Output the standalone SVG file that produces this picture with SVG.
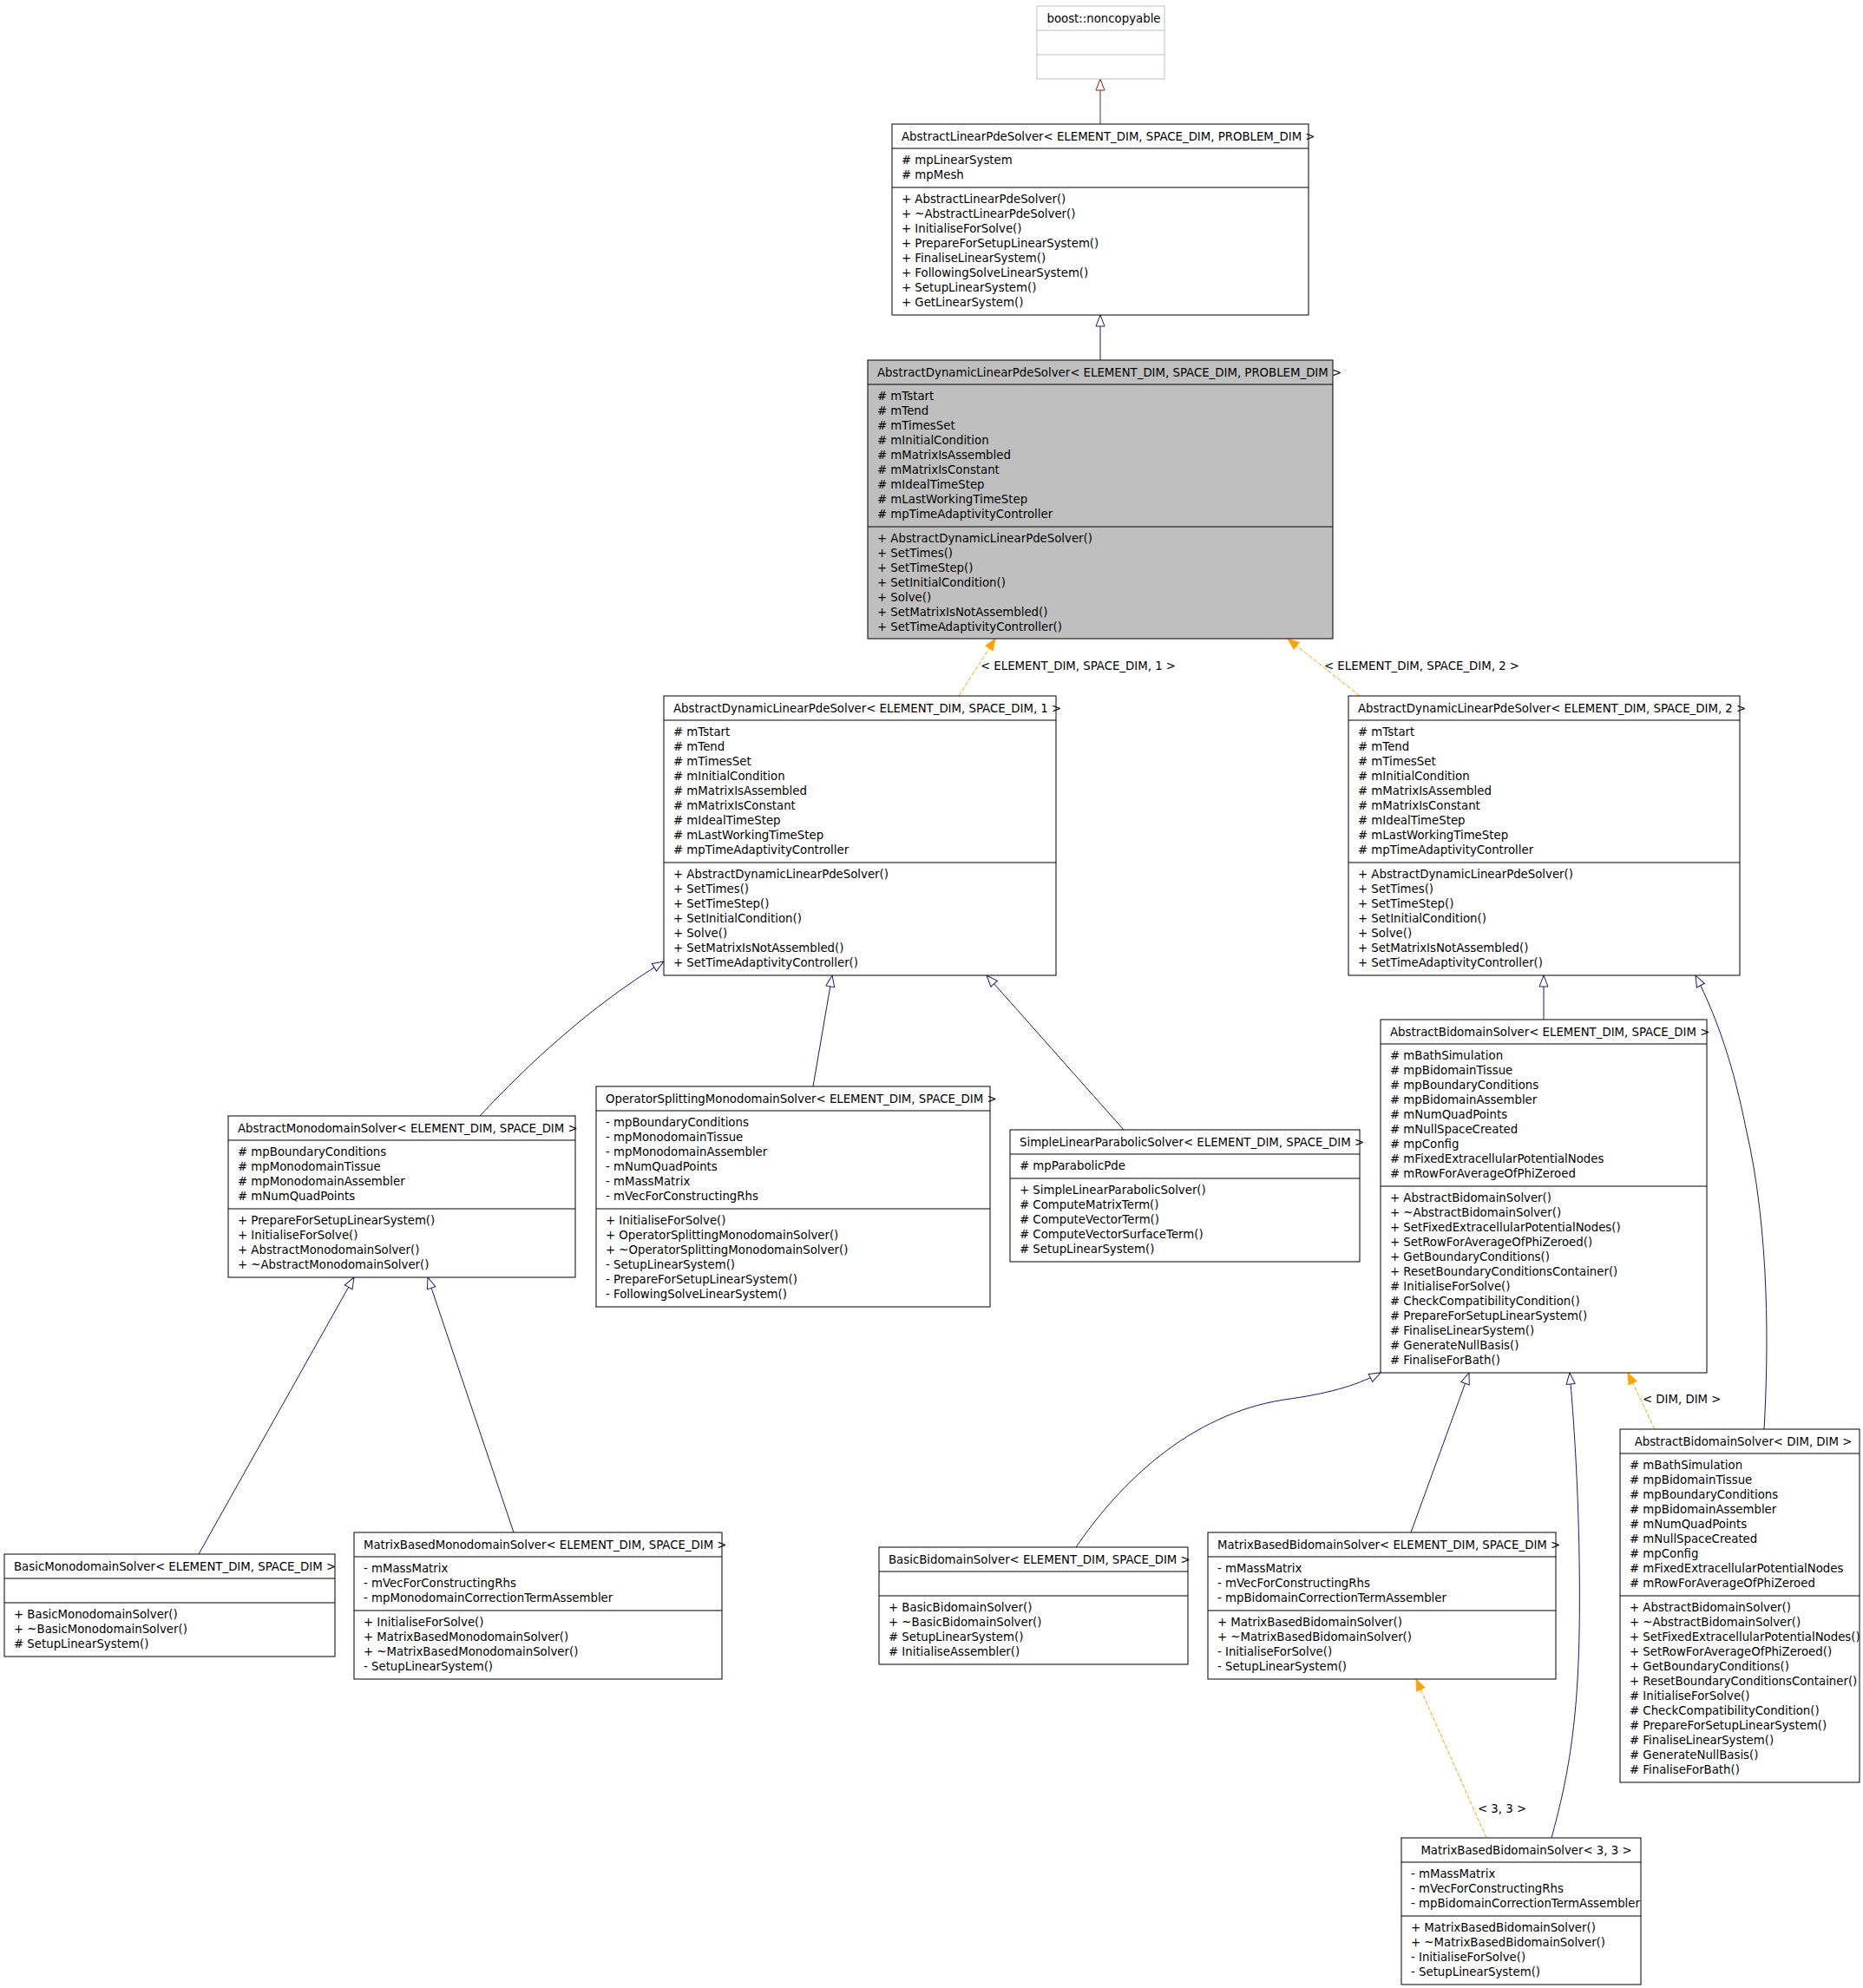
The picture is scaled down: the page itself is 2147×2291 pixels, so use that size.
<svg xmlns="http://www.w3.org/2000/svg" width="2147" height="2291" viewBox="0 0 2147 2291">
<style>
text{font-family:"DejaVu Sans","Liberation Sans",sans-serif;font-size:13.3px;fill:#000}
.b{fill:#fff;stroke:#000;stroke-width:1}
.gr{fill:#bfbfbf;stroke:#000;stroke-width:1}
.lg{fill:#fff;stroke:#bfbfbf;stroke-width:1}
.d{stroke:#000;stroke-width:1}
.dl{stroke:#bfbfbf;stroke-width:1}
.mc{text-anchor:middle}
.inh{fill:none;stroke:#191970;stroke-width:1;marker-end:url(#hb)}
.prv{fill:none;stroke:#8b1a1a;stroke-width:1;marker-end:url(#hr)}
.tpl{fill:none;stroke:#ffa500;stroke-width:1;stroke-dasharray:5,2;marker-end:url(#fo)}
</style>
<defs>
<marker id="hb" markerUnits="userSpaceOnUse" viewBox="-1 -1 15 12" refX="13" refY="5" markerWidth="15" markerHeight="12" orient="auto"><path d="M0,0 L13,5 L0,10 Z" fill="#fff" stroke="#191970" stroke-width="1"/></marker>
<marker id="hr" markerUnits="userSpaceOnUse" viewBox="-1 -1 15 12" refX="13" refY="5" markerWidth="15" markerHeight="12" orient="auto"><path d="M0,0 L13,5 L0,10 Z" fill="#fff" stroke="#8b1a1a" stroke-width="1"/></marker>
<marker id="fo" markerUnits="userSpaceOnUse" viewBox="-1 -1 15 12" refX="13" refY="5" markerWidth="15" markerHeight="12" orient="auto"><path d="M0,0 L13,5 L0,10 Z" fill="#ffa500" stroke="#ffa500" stroke-width="1"/></marker>
</defs>
<rect width="2147" height="2291" fill="#fff"/>

<g id="connectors">
<path class="prv" d="M1268,143 L1268,91"/>
<path class="inh" d="M1268,415 L1268,363"/>
<path class="tpl" d="M1105,802 L1147,736"/>
<text x="1130" y="772">&lt; ELEMENT_DIM, SPACE_DIM, 1 &gt;</text>
<path class="tpl" d="M1567,802 L1484,736"/>
<text x="1526" y="772">&lt; ELEMENT_DIM, SPACE_DIM, 2 &gt;</text>
<path class="inh" d="M553,1286 C610,1225 680,1160 765,1108"/>
<path class="inh" d="M937,1252 L959,1124"/>
<path class="inh" d="M1295,1302 L1137,1124"/>
<path class="inh" d="M1779,1175 L1779,1124"/>
<path class="inh" d="M2033,1647 C2038,1560 2040,1420 2012,1300 C1998,1230 1980,1175 1954,1124"/>
<path class="inh" d="M1240,1783 C1290,1710 1370,1630 1480,1613 C1530,1606 1560,1598 1591,1582"/>
<path class="inh" d="M1626,1766 L1693,1582"/>
<path class="inh" d="M1788,2118 C1805,2056 1818,1994 1820,1882 C1822,1760 1815,1650 1809,1582"/>
<path class="tpl" d="M1907,1647 L1876,1582"/>
<text x="1893" y="1617">&lt; DIM, DIM &gt;</text>
<path class="tpl" d="M1713,2118 L1632,1935"/>
<text x="1703" y="2089">&lt; 3, 3 &gt;</text>
<path class="inh" d="M229,1791 L408,1472"/>
<path class="inh" d="M592,1766 L493,1472"/>
</g>

<g id="boost_noncopyable" transform="translate(1195,7)">
<rect class="lg" width="147" height="84"/>
<line class="dl" x1="0" y1="28" x2="147" y2="28"/>
<line class="dl" x1="0" y1="56" x2="147" y2="56"/>
<text class="mc" x="77" y="19">boost::noncopyable</text>
</g>

<g id="AbstractLinearPdeSolver" transform="translate(1028,143)">
<rect class="b" width="480" height="220"/>
<line class="d" x1="0" y1="28" x2="480" y2="28"/>
<line class="d" x1="0" y1="73" x2="480" y2="73"/>
<text x="11" y="19">AbstractLinearPdeSolver&lt; ELEMENT_DIM, SPACE_DIM, PROBLEM_DIM &gt;</text>
<text x="11" y="46"># mpLinearSystem</text>
<text x="11" y="63"># mpMesh</text>
<text x="11" y="91">+ AbstractLinearPdeSolver()</text>
<text x="11" y="108">+ ~AbstractLinearPdeSolver()</text>
<text x="11" y="125">+ InitialiseForSolve()</text>
<text x="11" y="142">+ PrepareForSetupLinearSystem()</text>
<text x="11" y="159">+ FinaliseLinearSystem()</text>
<text x="11" y="176">+ FollowingSolveLinearSystem()</text>
<text x="11" y="193">+ SetupLinearSystem()</text>
<text x="11" y="210">+ GetLinearSystem()</text>
</g>

<g id="AbstractDynamicLinearPdeSolver" transform="translate(1000,415)">
<rect class="gr" width="536" height="321"/>
<line class="d" x1="0" y1="28" x2="536" y2="28"/>
<line class="d" x1="0" y1="192" x2="536" y2="192"/>
<text x="11" y="19">AbstractDynamicLinearPdeSolver&lt; ELEMENT_DIM, SPACE_DIM, PROBLEM_DIM &gt;</text>
<text x="11" y="46"># mTstart</text>
<text x="11" y="63"># mTend</text>
<text x="11" y="80"># mTimesSet</text>
<text x="11" y="97"># mInitialCondition</text>
<text x="11" y="114"># mMatrixIsAssembled</text>
<text x="11" y="131"># mMatrixIsConstant</text>
<text x="11" y="148"># mIdealTimeStep</text>
<text x="11" y="165"># mLastWorkingTimeStep</text>
<text x="11" y="182"># mpTimeAdaptivityController</text>
<text x="11" y="210">+ AbstractDynamicLinearPdeSolver()</text>
<text x="11" y="227">+ SetTimes()</text>
<text x="11" y="244">+ SetTimeStep()</text>
<text x="11" y="261">+ SetInitialCondition()</text>
<text x="11" y="278">+ Solve()</text>
<text x="11" y="295">+ SetMatrixIsNotAssembled()</text>
<text x="11" y="312">+ SetTimeAdaptivityController()</text>
</g>

<g id="AbstractDynamicLinearPdeSolver_1" transform="translate(765,802)">
<rect class="b" width="452" height="322"/>
<line class="d" x1="0" y1="28" x2="452" y2="28"/>
<line class="d" x1="0" y1="192" x2="452" y2="192"/>
<text x="11" y="19">AbstractDynamicLinearPdeSolver&lt; ELEMENT_DIM, SPACE_DIM, 1 &gt;</text>
<text x="11" y="46"># mTstart</text>
<text x="11" y="63"># mTend</text>
<text x="11" y="80"># mTimesSet</text>
<text x="11" y="97"># mInitialCondition</text>
<text x="11" y="114"># mMatrixIsAssembled</text>
<text x="11" y="131"># mMatrixIsConstant</text>
<text x="11" y="148"># mIdealTimeStep</text>
<text x="11" y="165"># mLastWorkingTimeStep</text>
<text x="11" y="182"># mpTimeAdaptivityController</text>
<text x="11" y="210">+ AbstractDynamicLinearPdeSolver()</text>
<text x="11" y="227">+ SetTimes()</text>
<text x="11" y="244">+ SetTimeStep()</text>
<text x="11" y="261">+ SetInitialCondition()</text>
<text x="11" y="278">+ Solve()</text>
<text x="11" y="295">+ SetMatrixIsNotAssembled()</text>
<text x="11" y="312">+ SetTimeAdaptivityController()</text>
</g>

<g id="AbstractDynamicLinearPdeSolver_2" transform="translate(1554,802)">
<rect class="b" width="451" height="322"/>
<line class="d" x1="0" y1="28" x2="451" y2="28"/>
<line class="d" x1="0" y1="192" x2="451" y2="192"/>
<text x="11" y="19">AbstractDynamicLinearPdeSolver&lt; ELEMENT_DIM, SPACE_DIM, 2 &gt;</text>
<text x="11" y="46"># mTstart</text>
<text x="11" y="63"># mTend</text>
<text x="11" y="80"># mTimesSet</text>
<text x="11" y="97"># mInitialCondition</text>
<text x="11" y="114"># mMatrixIsAssembled</text>
<text x="11" y="131"># mMatrixIsConstant</text>
<text x="11" y="148"># mIdealTimeStep</text>
<text x="11" y="165"># mLastWorkingTimeStep</text>
<text x="11" y="182"># mpTimeAdaptivityController</text>
<text x="11" y="210">+ AbstractDynamicLinearPdeSolver()</text>
<text x="11" y="227">+ SetTimes()</text>
<text x="11" y="244">+ SetTimeStep()</text>
<text x="11" y="261">+ SetInitialCondition()</text>
<text x="11" y="278">+ Solve()</text>
<text x="11" y="295">+ SetMatrixIsNotAssembled()</text>
<text x="11" y="312">+ SetTimeAdaptivityController()</text>
</g>

<g id="AbstractMonodomainSolver" transform="translate(263,1286)">
<rect class="b" width="400" height="186"/>
<line class="d" x1="0" y1="28" x2="400" y2="28"/>
<line class="d" x1="0" y1="107" x2="400" y2="107"/>
<text x="11" y="19">AbstractMonodomainSolver&lt; ELEMENT_DIM, SPACE_DIM &gt;</text>
<text x="11" y="46"># mpBoundaryConditions</text>
<text x="11" y="63"># mpMonodomainTissue</text>
<text x="11" y="80"># mpMonodomainAssembler</text>
<text x="11" y="97"># mNumQuadPoints</text>
<text x="11" y="125">+ PrepareForSetupLinearSystem()</text>
<text x="11" y="142">+ InitialiseForSolve()</text>
<text x="11" y="159">+ AbstractMonodomainSolver()</text>
<text x="11" y="176">+ ~AbstractMonodomainSolver()</text>
</g>

<g id="OperatorSplittingMonodomainSolver" transform="translate(687,1252)">
<rect class="b" width="454" height="254"/>
<line class="d" x1="0" y1="28" x2="454" y2="28"/>
<line class="d" x1="0" y1="141" x2="454" y2="141"/>
<text x="11" y="19">OperatorSplittingMonodomainSolver&lt; ELEMENT_DIM, SPACE_DIM &gt;</text>
<text x="11" y="46">- mpBoundaryConditions</text>
<text x="11" y="63">- mpMonodomainTissue</text>
<text x="11" y="80">- mpMonodomainAssembler</text>
<text x="11" y="97">- mNumQuadPoints</text>
<text x="11" y="114">- mMassMatrix</text>
<text x="11" y="131">- mVecForConstructingRhs</text>
<text x="11" y="159">+ InitialiseForSolve()</text>
<text x="11" y="176">+ OperatorSplittingMonodomainSolver()</text>
<text x="11" y="193">+ ~OperatorSplittingMonodomainSolver()</text>
<text x="11" y="210">- SetupLinearSystem()</text>
<text x="11" y="227">- PrepareForSetupLinearSystem()</text>
<text x="11" y="244">- FollowingSolveLinearSystem()</text>
</g>

<g id="SimpleLinearParabolicSolver" transform="translate(1164,1302)">
<rect class="b" width="403" height="152"/>
<line class="d" x1="0" y1="28" x2="403" y2="28"/>
<line class="d" x1="0" y1="56" x2="403" y2="56"/>
<text x="11" y="19">SimpleLinearParabolicSolver&lt; ELEMENT_DIM, SPACE_DIM &gt;</text>
<text x="11" y="46"># mpParabolicPde</text>
<text x="11" y="74">+ SimpleLinearParabolicSolver()</text>
<text x="11" y="91"># ComputeMatrixTerm()</text>
<text x="11" y="108"># ComputeVectorTerm()</text>
<text x="11" y="125"># ComputeVectorSurfaceTerm()</text>
<text x="11" y="142"># SetupLinearSystem()</text>
</g>

<g id="AbstractBidomainSolver" transform="translate(1591,1175)">
<rect class="b" width="376" height="407"/>
<line class="d" x1="0" y1="28" x2="376" y2="28"/>
<line class="d" x1="0" y1="192" x2="376" y2="192"/>
<text x="11" y="19">AbstractBidomainSolver&lt; ELEMENT_DIM, SPACE_DIM &gt;</text>
<text x="11" y="46"># mBathSimulation</text>
<text x="11" y="63"># mpBidomainTissue</text>
<text x="11" y="80"># mpBoundaryConditions</text>
<text x="11" y="97"># mpBidomainAssembler</text>
<text x="11" y="114"># mNumQuadPoints</text>
<text x="11" y="131"># mNullSpaceCreated</text>
<text x="11" y="148"># mpConfig</text>
<text x="11" y="165"># mFixedExtracellularPotentialNodes</text>
<text x="11" y="182"># mRowForAverageOfPhiZeroed</text>
<text x="11" y="210">+ AbstractBidomainSolver()</text>
<text x="11" y="227">+ ~AbstractBidomainSolver()</text>
<text x="11" y="244">+ SetFixedExtracellularPotentialNodes()</text>
<text x="11" y="261">+ SetRowForAverageOfPhiZeroed()</text>
<text x="11" y="278">+ GetBoundaryConditions()</text>
<text x="11" y="295">+ ResetBoundaryConditionsContainer()</text>
<text x="11" y="312"># InitialiseForSolve()</text>
<text x="11" y="329"># CheckCompatibilityCondition()</text>
<text x="11" y="346"># PrepareForSetupLinearSystem()</text>
<text x="11" y="363"># FinaliseLinearSystem()</text>
<text x="11" y="380"># GenerateNullBasis()</text>
<text x="11" y="397"># FinaliseForBath()</text>
</g>

<g id="AbstractBidomainSolver_DIM_DIM" transform="translate(1867,1647)">
<rect class="b" width="276" height="407"/>
<line class="d" x1="0" y1="28" x2="276" y2="28"/>
<line class="d" x1="0" y1="192" x2="276" y2="192"/>
<text class="mc" x="142" y="19">AbstractBidomainSolver&lt; DIM, DIM &gt;</text>
<text x="11" y="46"># mBathSimulation</text>
<text x="11" y="63"># mpBidomainTissue</text>
<text x="11" y="80"># mpBoundaryConditions</text>
<text x="11" y="97"># mpBidomainAssembler</text>
<text x="11" y="114"># mNumQuadPoints</text>
<text x="11" y="131"># mNullSpaceCreated</text>
<text x="11" y="148"># mpConfig</text>
<text x="11" y="165"># mFixedExtracellularPotentialNodes</text>
<text x="11" y="182"># mRowForAverageOfPhiZeroed</text>
<text x="11" y="210">+ AbstractBidomainSolver()</text>
<text x="11" y="227">+ ~AbstractBidomainSolver()</text>
<text x="11" y="244">+ SetFixedExtracellularPotentialNodes()</text>
<text x="11" y="261">+ SetRowForAverageOfPhiZeroed()</text>
<text x="11" y="278">+ GetBoundaryConditions()</text>
<text x="11" y="295">+ ResetBoundaryConditionsContainer()</text>
<text x="11" y="312"># InitialiseForSolve()</text>
<text x="11" y="329"># CheckCompatibilityCondition()</text>
<text x="11" y="346"># PrepareForSetupLinearSystem()</text>
<text x="11" y="363"># FinaliseLinearSystem()</text>
<text x="11" y="380"># GenerateNullBasis()</text>
<text x="11" y="397"># FinaliseForBath()</text>
</g>

<g id="BasicMonodomainSolver" transform="translate(5,1791)">
<rect class="b" width="381" height="118"/>
<line class="d" x1="0" y1="28" x2="381" y2="28"/>
<line class="d" x1="0" y1="56" x2="381" y2="56"/>
<text x="11" y="19">BasicMonodomainSolver&lt; ELEMENT_DIM, SPACE_DIM &gt;</text>
<text x="11" y="74">+ BasicMonodomainSolver()</text>
<text x="11" y="91">+ ~BasicMonodomainSolver()</text>
<text x="11" y="108"># SetupLinearSystem()</text>
</g>

<g id="MatrixBasedMonodomainSolver" transform="translate(408,1766)">
<rect class="b" width="424" height="169"/>
<line class="d" x1="0" y1="28" x2="424" y2="28"/>
<line class="d" x1="0" y1="90" x2="424" y2="90"/>
<text x="11" y="19">MatrixBasedMonodomainSolver&lt; ELEMENT_DIM, SPACE_DIM &gt;</text>
<text x="11" y="46">- mMassMatrix</text>
<text x="11" y="63">- mVecForConstructingRhs</text>
<text x="11" y="80">- mpMonodomainCorrectionTermAssembler</text>
<text x="11" y="108">+ InitialiseForSolve()</text>
<text x="11" y="125">+ MatrixBasedMonodomainSolver()</text>
<text x="11" y="142">+ ~MatrixBasedMonodomainSolver()</text>
<text x="11" y="159">- SetupLinearSystem()</text>
</g>

<g id="BasicBidomainSolver" transform="translate(1013,1783)">
<rect class="b" width="356" height="135"/>
<line class="d" x1="0" y1="28" x2="356" y2="28"/>
<line class="d" x1="0" y1="56" x2="356" y2="56"/>
<text x="11" y="19">BasicBidomainSolver&lt; ELEMENT_DIM, SPACE_DIM &gt;</text>
<text x="11" y="74">+ BasicBidomainSolver()</text>
<text x="11" y="91">+ ~BasicBidomainSolver()</text>
<text x="11" y="108"># SetupLinearSystem()</text>
<text x="11" y="125"># InitialiseAssembler()</text>
</g>

<g id="MatrixBasedBidomainSolver" transform="translate(1392,1766)">
<rect class="b" width="401" height="169"/>
<line class="d" x1="0" y1="28" x2="401" y2="28"/>
<line class="d" x1="0" y1="90" x2="401" y2="90"/>
<text x="11" y="19">MatrixBasedBidomainSolver&lt; ELEMENT_DIM, SPACE_DIM &gt;</text>
<text x="11" y="46">- mMassMatrix</text>
<text x="11" y="63">- mVecForConstructingRhs</text>
<text x="11" y="80">- mpBidomainCorrectionTermAssembler</text>
<text x="11" y="108">+ MatrixBasedBidomainSolver()</text>
<text x="11" y="125">+ ~MatrixBasedBidomainSolver()</text>
<text x="11" y="142">- InitialiseForSolve()</text>
<text x="11" y="159">- SetupLinearSystem()</text>
</g>

<g id="MatrixBasedBidomainSolver_3_3" transform="translate(1615,2118)">
<rect class="b" width="276" height="169"/>
<line class="d" x1="0" y1="28" x2="276" y2="28"/>
<line class="d" x1="0" y1="90" x2="276" y2="90"/>
<text class="mc" x="144" y="19">MatrixBasedBidomainSolver&lt; 3, 3 &gt;</text>
<text x="11" y="46">- mMassMatrix</text>
<text x="11" y="63">- mVecForConstructingRhs</text>
<text x="11" y="80">- mpBidomainCorrectionTermAssembler</text>
<text x="11" y="108">+ MatrixBasedBidomainSolver()</text>
<text x="11" y="125">+ ~MatrixBasedBidomainSolver()</text>
<text x="11" y="142">- InitialiseForSolve()</text>
<text x="11" y="159">- SetupLinearSystem()</text>
</g>
</svg>
